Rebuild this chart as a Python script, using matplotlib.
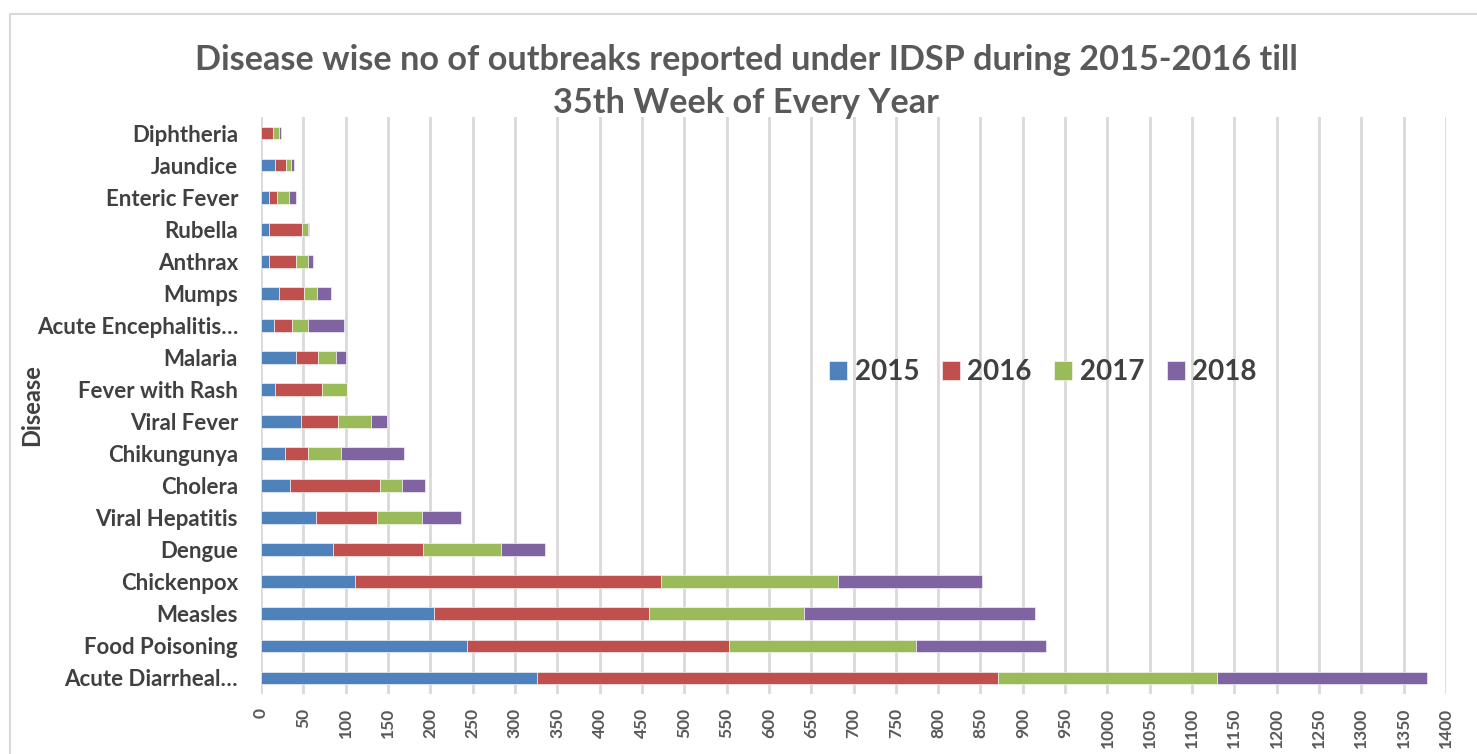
import matplotlib
matplotlib.use("Agg")
import matplotlib.pyplot as plt
import numpy as np
from matplotlib.patches import Rectangle

diseases = ["Acute Diarrheal…", "Food Poisoning", "Measles", "Chickenpox", "Dengue",
            "Viral Hepatitis", "Cholera", "Chikungunya", "Viral Fever", "Fever with Rash",
            "Malaria", "Acute Encephalitis…", "Mumps", "Anthrax", "Rubella",
            "Enteric Fever", "Jaundice", "Diphtheria"]
years = ["2015", "2016", "2017", "2018"]
v2015 = [326, 243, 204, 111, 85, 65, 34, 28, 47, 17, 41, 15, 21, 10, 10, 10, 17, 0]
v2016 = [545, 310, 254, 361, 106, 72, 106, 28, 44, 55, 26, 22, 30, 31, 38, 9, 13, 14]
v2017 = [258, 221, 184, 210, 92, 53, 26, 39, 39, 30, 22, 19, 15, 15, 8, 14, 6, 7]
v2018 = [248, 154, 273, 170, 53, 46, 28, 74, 19, 0, 11, 42, 17, 6, 1, 8, 3, 3]
colors = ["#4F81BD", "#C0504D", "#9BBB59", "#8064A2"]

title_lines = ["Disease wise no of outbreaks reported under IDSP during 2015-2016 till",
               "35th Week of Every Year"]
xticks = list(range(0, 1401, 50))

plt.rcParams['font.family'] = ['Lato', 'DejaVu Sans']

fig = plt.figure(figsize=(14.77, 7.54), dpi=100)
fig.patches.append(Rectangle((10/1477, -0.1), 1.2, (754-14)/754 + 0.1,
                             transform=fig.transFigure, fill=False,
                             edgecolor="#D9D9D9", linewidth=1.5))
ax = fig.add_axes([261/1477, 1-694/754, 1185/1477, 577/754])

y = np.arange(len(diseases))
left = np.zeros(len(diseases))
for vals, yr, c in zip([v2015, v2016, v2017, v2018], years, colors):
    ax.barh(y, vals, left=left, height=0.4, color=c, label=yr,
            edgecolor="white", linewidth=0.4, zorder=3)
    left = left + np.array(vals)

ax.set_xlim(0, 1400)
ax.set_ylim(-0.5, len(diseases) - 0.5)
ax.set_xticks(xticks)
ax.set_xticklabels([str(t) for t in xticks], rotation=90, fontsize=12.5,
                   fontweight="bold", color="#595959", va="top")
ax.set_yticks(y)
ax.set_yticklabels(diseases, fontsize=16, fontweight="bold", color="#404040")
ax.tick_params(axis="both", length=0)
ax.tick_params(axis="y", pad=16.5)
ax.tick_params(axis="x", pad=10)
ax.grid(axis="x", color="#D9D9D9", linewidth=2, zorder=0)
ax.set_axisbelow(True)
for s in ax.spines.values():
    s.set_visible(False)

ax.set_ylabel("Disease", fontsize=17, fontweight="bold", color="#404040")
ax.yaxis.set_label_coords(-(261-43)/1185, 0.5)

for line, ypx in zip(title_lines, [60, 103]):
    fig.text(746/1477, 1-ypx/754, line, ha="center", va="center", fontsize=24.7,
             fontweight="bold", color="#595959")

leg = ax.legend(loc="center", bbox_to_anchor=((1043-261)/1185, (694-372)/577),
                ncol=4, frameon=False, handlelength=0.65, handleheight=0.65,
                handletextpad=0.28, columnspacing=0.8,
                prop={"size": 20, "weight": "bold"})
for t in leg.get_texts():
    t.set_color("#404040")

fig.savefig("out.png", dpi=100)
